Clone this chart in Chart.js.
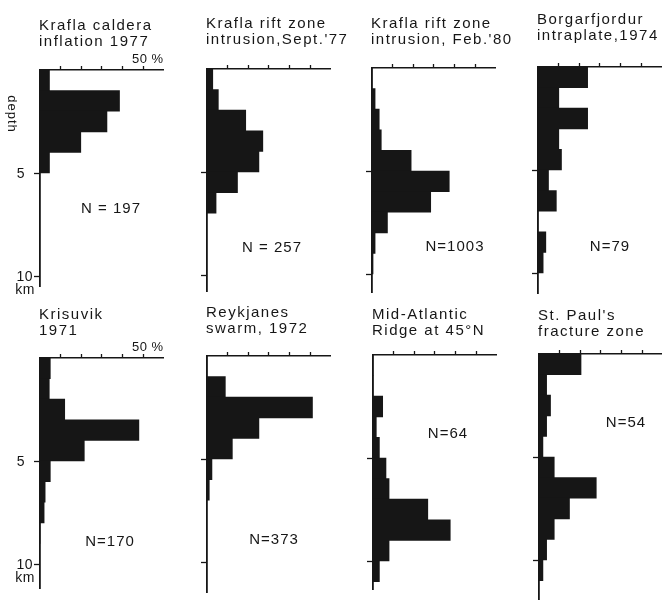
<!DOCTYPE html>
<html>
<head>
<meta charset="utf-8">
<script src="https://cdn.jsdelivr.net/npm/chart.js@4/dist/chart.umd.min.js"></script>
<style>
  html, body { margin: 0; padding: 0; background: #fff; overflow: hidden; }
  #sheet { position: relative; width: 662px; height: 600px; overflow: hidden; background: #fff; }
  #sheet canvas { position: absolute; }
</style>
</head>
<body>
<div id="sheet"></div>
<script>
// Depth bins of 1 km, starting at the surface
const binStartKm = [0, 1, 2, 3, 4, 5, 6, 7, 8, 9, 10];

// Percentage of earthquakes in each depth bin
const kraflaCaldera1977 = [4.6, 38.6, 32.5, 19.8, 4.6];
const kraflaRiftSept77 = [2.8, 5.5, 18.8, 27.1, 25.2, 14.8, 4.4];
const kraflaRiftFeb80 = [0, 1.5, 3.5, 4.5, 19, 37.5, 28.5, 7.5, 1.5, 0.5];
const borgarfjordur1974 = [24.1, 10.1, 24.1, 10.1, 11.4, 5.1, 8.9, 0, 3.8, 2.5];
const krisuvik1971 = [5, 4.5, 12, 48, 21.5, 5, 2.5, 2, 0];
const reykjanes1972 = [0, 8.9, 51.2, 25.2, 12.3, 2.4, 1.1];
const midAtlantic45N = [0, 0, 4.7, 1.6, 3.1, 6.3, 7.8, 26.6, 37.5, 7.8, 3.1];
const stPaulsFZ = [20.4, 3.7, 5.6, 3.7, 1.9, 7.4, 27.8, 14.8, 7.4, 3.7, 1.9];

const panelTitles = [
  ['Krafla caldera', 'inflation 1977'],
  ['Krafla rift zone', "intrusion,Sept.'77"],
  ['Krafla rift zone', "intrusion, Feb.'80"],
  ['Borgarfjordur', 'intraplate,1974'],
  ['Krisuvik', '1971'],
  ['Reykjanes', 'swarm, 1972'],
  ['Mid-Atlantic', 'Ridge at 45\u00b0N'],
  ["St. Paul's", 'fracture zone']
];
const panelCounts = ['N = 197', 'N = 257', 'N=1003', 'N=79', 'N=170', 'N=373', 'N=64', 'N=54'];
const panelSeries = [kraflaCaldera1977, kraflaRiftSept77, kraflaRiftFeb80, borgarfjordur1974,
                     krisuvik1971, reykjanes1972, midAtlantic45N, stPaulsFZ];

// Axis ticks
const percentTicks = [10, 20, 30, 40, 50];
const depthTicks = [5, 10];
const percentMax = 60;

// Page placement of each small histogram (axis corner, depth extent, text offsets)
const panelLayout = [
  { left: 40,  top: 70,  depthMax: 10.5, titleY: -40, countAt: [71, 143], labels: true, depthWord: true },
  { left: 207, top: 69,  depthMax: 10.8, titleY: -41, countAt: [65, 183] },
  { left: 372, top: 68,  depthMax: 10.9, titleY: -40, countAt: [83, 183] },
  { left: 538, top: 67,  depthMax: 11.0, titleY: -43, countAt: [72, 184] },
  { left: 40,  top: 358, depthMax: 11.2, titleY: -39, countAt: [70, 188], labels: true },
  { left: 207, top: 356, depthMax: 11.5, titleY: -39, countAt: [67, 188] },
  { left: 373, top: 355, depthMax: 11.4, titleY: -36, countAt: [75, 83] },
  { left: 539, top: 354, depthMax: 11.9, titleY: -34, countAt: [87, 73] }
];

const INK = '#161616';
const FONT = '"Liberation Sans", Arial, Helvetica, sans-serif';
const PX_PER_KM = 20.6;
const PX_PER_PCT = 2.06;
const PAD_LEFT = 45, PAD_TOP = 72, CANVAS_W = 200;

function spacing(ctx, v) { if ('letterSpacing' in ctx) ctx.letterSpacing = v; }

// Draws panel titles, sample counts and the axis annotations
const panelText = {
  id: 'panelText',
  afterDraw(chart, args, opts) {
    const { ctx, chartArea: a, scales: { x, y } } = chart;
    const p = opts.layout;
    ctx.save();
    ctx.fillStyle = INK;
    ctx.textBaseline = 'alphabetic';
    ctx.font = '15px ' + FONT;
    spacing(ctx, '1.5px');
    ctx.textAlign = 'left';
    opts.title.forEach((line, i) => ctx.fillText(line, a.left - 1, a.top + p.titleY + i * 15.5));
    spacing(ctx, '1px');
    ctx.textAlign = 'center';
    ctx.fillText(opts.count, a.left + p.countAt[0], a.top + p.countAt[1]);
    if (p.labels) {
      ctx.font = '14px ' + FONT;
      spacing(ctx, '0.5px');
      ctx.textAlign = 'right';
      ctx.fillText('5', a.left - 15, y.getPixelForValue(5) + 5);
      ctx.fillText('10', a.left - 7, y.getPixelForValue(10) + 5);
      ctx.fillText('km', a.left - 5, y.getPixelForValue(10) + 18);
      ctx.font = '13px ' + FONT;
      ctx.fillText('50 %', x.getPixelForValue(percentMax), a.top - 7);
    }
    if (p.depthWord) {
      ctx.font = '13px ' + FONT;
      spacing(ctx, '1px');
      ctx.translate(a.left - 28, a.top + 44);
      ctx.rotate(Math.PI / 2);
      ctx.textAlign = 'center';
      ctx.textBaseline = 'middle';
      ctx.fillText('depth', 0, 0);
    }
    ctx.restore();
  }
};

const sheet = document.getElementById('sheet');

panelSeries.forEach((values, i) => {
  const p = panelLayout[i];
  const areaH = p.depthMax * PX_PER_KM;
  const areaW = percentMax * PX_PER_PCT;
  const H = Math.ceil(PAD_TOP + areaH + 10);
  const canvas = document.createElement('canvas');
  canvas.width = CANVAS_W;
  canvas.height = H;
  canvas.style.left = (p.left - PAD_LEFT) + 'px';
  canvas.style.top = (p.top - PAD_TOP) + 'px';
  canvas.style.width = CANVAS_W + 'px';
  canvas.style.height = H + 'px';
  sheet.appendChild(canvas);

  const points = values.map((v, k) => ({ x: v, y: binStartKm[k] + 0.5 }));

  new Chart(canvas, {
    type: 'bar',
    data: {
      datasets: [{
        data: points,
        backgroundColor: INK,
        borderWidth: 0,
        barPercentage: 1,
        categoryPercentage: 1
      }]
    },
    options: {
      indexAxis: 'y',
      responsive: false,
      animation: false,
      devicePixelRatio: 1,
      layout: {
        padding: {
          left: PAD_LEFT - 6,
          top: PAD_TOP - 5,
          right: CANVAS_W - PAD_LEFT - areaW,
          bottom: H - PAD_TOP - areaH
        }
      },
      scales: {
        x: {
          type: 'linear',
          position: 'top',
          min: 0,
          max: percentMax,
          offset: false,
          afterBuildTicks: s => { s.ticks = percentTicks.map(v => ({ value: v })); },
          afterFit: s => { s.height = 5; },
          ticks: { display: false },
          grid: { offset: false, drawOnChartArea: false, drawTicks: true, tickLength: 4, tickWidth: 1.3, tickColor: INK, color: INK },
          border: { display: true, color: INK, width: 1.6 }
        },
        y: {
          type: 'linear',
          reverse: true,
          min: 0,
          max: p.depthMax,
          offset: false,
          afterBuildTicks: s => { s.ticks = depthTicks.map(v => ({ value: v })); },
          afterFit: s => { s.width = 6; },
          ticks: { display: false },
          grid: { offset: false, drawOnChartArea: false, drawTicks: true, tickLength: 6, tickWidth: 1.3, tickColor: INK, color: INK },
          border: { display: true, color: INK, width: 1.8 }
        }
      },
      plugins: {
        legend: { display: false },
        tooltip: { enabled: false },
        panelText: { layout: p, title: panelTitles[i], count: panelCounts[i] }
      }
    },
    plugins: [panelText]
  });
});
</script>
</body>
</html>
